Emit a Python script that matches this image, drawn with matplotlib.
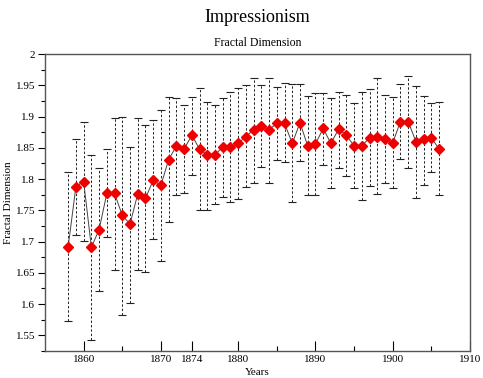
import matplotlib
matplotlib.use("Agg")
import matplotlib.pyplot as plt
from matplotlib.ticker import MultipleLocator, FixedLocator

years = list(range(1858, 1907))
fd = [1.692, 1.788, 1.796, 1.691, 1.719, 1.777, 1.777, 1.742, 1.728, 1.776,
      1.769, 1.798, 1.790, 1.831, 1.853, 1.848, 1.870, 1.848, 1.838, 1.839,
      1.851, 1.851, 1.857, 1.868, 1.879, 1.885, 1.879, 1.889, 1.889, 1.857,
      1.890, 1.853, 1.856, 1.881, 1.857, 1.880, 1.870, 1.853, 1.853, 1.866,
      1.868, 1.864, 1.858, 1.892, 1.892, 1.860, 1.864, 1.866, 1.848]
upper = [1.811, 1.864, 1.891, 1.838, 1.817, 1.848, 1.898, 1.900, 1.851, 1.898,
         1.887, 1.894, 1.911, 1.931, 1.929, 1.918, 1.931, 1.945, 1.923, 1.918,
         1.929, 1.940, 1.946, 1.950, 1.961, 1.950, 1.962, 1.947, 1.953, 1.952,
         1.952, 1.933, 1.938, 1.938, 1.930, 1.940, 1.935, 1.921, 1.939, 1.944,
         1.961, 1.935, 1.931, 1.952, 1.965, 1.949, 1.933, 1.921, 1.923]
lower = [1.573, 1.711, 1.701, 1.543, 1.621, 1.707, 1.654, 1.582, 1.602, 1.655,
         1.651, 1.704, 1.669, 1.731, 1.775, 1.777, 1.807, 1.751, 1.751, 1.760,
         1.772, 1.763, 1.768, 1.787, 1.793, 1.820, 1.793, 1.831, 1.827, 1.764,
         1.829, 1.775, 1.775, 1.823, 1.785, 1.818, 1.805, 1.785, 1.766, 1.789,
         1.776, 1.793, 1.785, 1.832, 1.818, 1.770, 1.791, 1.812, 1.774]
xticks = [1860, 1870, 1874, 1880, 1890, 1900, 1910]
xminor = [1865, 1885, 1895, 1905]

serif = ["Liberation Serif", "DejaVu Serif"]
plt.rcParams["font.family"] = serif

fig = plt.figure(figsize=(4.83, 3.78), dpi=100)
ax = fig.add_axes([45/483, 27/378, 425/483, 297/378])

yerr = [[v - l for v, l in zip(fd, lower)], [u - v for v, u in zip(fd, upper)]]
eb = ax.errorbar(years, fd, yerr=yerr, fmt="none", ecolor="#222222",
                 elinewidth=0.7, capsize=3, capthick=0.8)
for lc in eb[2]:
    lc.set_linestyle((0, (2.5, 2)))
ax.plot(years, fd, color="#444444", lw=0.7, zorder=3)
ax.plot(years, fd, linestyle="none", marker="D", markersize=5.2,
        color="#ee0000", markeredgecolor="#ee0000", zorder=4)

ax.set_xlim(1855, 1910)
ax.set_ylim(1.525, 2.0)
ax.xaxis.set_major_locator(FixedLocator(xticks))
ax.xaxis.set_minor_locator(FixedLocator(xminor))
ax.yaxis.set_minor_locator(MultipleLocator(0.025))
ax.set_yticks([1.55, 1.6, 1.65, 1.7, 1.75, 1.8, 1.85, 1.9, 1.95, 2.0])
ax.set_yticklabels(["1.55", "1.6", "1.65", "1.7", "1.75", "1.8", "1.85", "1.9", "1.95", "2"])
ax.tick_params(axis="x", which="major", direction="in", length=7, width=0.8,
               labelsize=8, pad=3)
ax.tick_params(axis="x", which="minor", direction="in", length=3.5, width=0.8)
ax.tick_params(axis="y", which="major", direction="out", length=5, width=0.8,
               labelsize=8, pad=2)
ax.tick_params(axis="y", which="minor", direction="out", length=3, width=0.8)
for s in ax.spines.values():
    s.set_color("#555555")
    s.set_linewidth(1.0)

ax.set_xlabel("Years", fontsize=8, labelpad=2.5)
ax.set_ylabel("Fractal Dimension", fontsize=8, labelpad=2)
fig.text(0.5327, 1 - 18/378, "Impressionism", ha="center", va="center", fontsize=13)
fig.text(0.5327, 1 - 43/378, "Fractal Dimension", ha="center", va="center", fontsize=8.5)

fig.savefig("out.png", dpi=100)
